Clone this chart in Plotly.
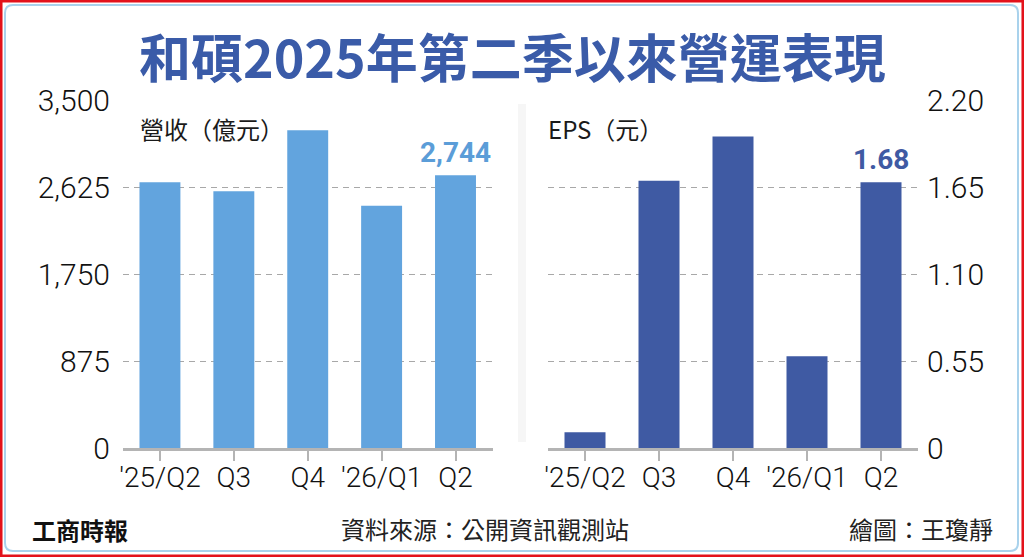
import plotly.graph_objects as go

# 資料
quarters = ["'25/Q2", "Q3", "Q4", "'26/Q1", "Q2"]
revenue = [2672, 2581, 3195, 2437, 2744]      # 營收(億元)
eps = [0.10, 1.69, 1.97, 0.58, 1.68]          # EPS(元)

rev_ticks = [0, 875, 1750, 2625, 3500]
rev_ticktext = ["0", "875", "1,750", "2,625", "3,500"]
eps_ticks = [0, 0.55, 1.10, 1.65, 2.20]
eps_ticktext = ["0", "0.55", "1.10", "1.65", "2.20"]

W, H = 1024, 557
CJK = "Noto Sans CJK TC"
NUM = "Roboto"
LIGHT_BLUE = "#62a4de"
DARK_BLUE = "#3f5aa3"
TITLE_BLUE = "#3a5ba8"


def px(x):
    return x / W


def py(y):
    return 1 - y / H


fig = go.Figure()

fig.add_trace(go.Bar(x=quarters, y=revenue, marker_color=LIGHT_BLUE,
                     marker_line_width=0, xaxis="x", yaxis="y",
                     hoverinfo="skip"))
fig.add_trace(go.Bar(x=quarters, y=eps, marker_color=DARK_BLUE,
                     marker_line_width=0, xaxis="x2", yaxis="y2",
                     hoverinfo="skip"))

xaxis_style = dict(
    type="category", showgrid=False, showline=True, linecolor="#b4b4b4",
    linewidth=3, ticks="outside", ticklen=10, tickwidth=2, tickcolor="#b4b4b4",
    tickfont=dict(family=NUM, size=28, color="#111", weight=300), fixedrange=True,
    automargin=False, ticklabelstandoff=-8,
)
yaxis_style = dict(
    showgrid=True, gridcolor="#a8a8a8", gridwidth=1, griddash="6px,5px",
    zeroline=False, showline=False, ticks="",
    tickfont=dict(family=NUM, size=30, color="#111", weight=300), fixedrange=True,
    automargin=False,
)

ydom = [py(448), py(100)]

fig.update_layout(
    width=W, height=H,
    margin=dict(l=0, r=0, t=0, b=0, autoexpand=False),
    paper_bgcolor="white", plot_bgcolor="white",
    showlegend=False, bargap=0.446,
    xaxis=dict(domain=[px(123), px(493)], anchor="y", **xaxis_style),
    yaxis=dict(domain=ydom, anchor="x", range=[0, 3500], tickvals=rev_ticks,
               ticktext=rev_ticktext, ticklabelstandoff=12, **yaxis_style),
    xaxis2=dict(domain=[px(548), px(918)], anchor="y2", **xaxis_style),
    yaxis2=dict(domain=ydom, anchor="x2", side="right", range=[0, 2.20],
                tickvals=eps_ticks, ticktext=eps_ticktext,
                ticklabelstandoff=8, **yaxis_style),
)

# 標題
fig.add_annotation(text="<b>和碩2025年第二季以來營運表現</b>", x=0.5, y=py(55),
                   xref="paper", yref="paper", xanchor="center", yanchor="middle",
                   showarrow=False, font=dict(family=CJK, size=52, color=TITLE_BLUE))

# 面板標籤
fig.add_annotation(text="營收（億元）", x=px(138), y=py(128), xref="paper", yref="paper",
                   xanchor="left", yanchor="middle", showarrow=False,
                   font=dict(family=CJK, size=24, color="#1a1a1a"))
fig.add_annotation(text="EPS（元）", x=px(546), y=py(128), xref="paper", yref="paper",
                   xanchor="left", yanchor="middle", showarrow=False,
                   font=dict(family=CJK, size=24, color="#1a1a1a"))

# 最新數值
fig.add_annotation(text="<b>%s</b>" % format(revenue[-1], ","), x=quarters[-1], y=revenue[-1],
                   xref="x", yref="y", xanchor="center", yanchor="bottom", yshift=4,
                   showarrow=False, font=dict(family=NUM, size=28, color="#5b9dd8"))
fig.add_annotation(text="<b>%.2f</b>" % eps[-1], x=quarters[-1], y=eps[-1],
                   xref="x2", yref="y2", xanchor="center", yanchor="bottom", yshift=4,
                   showarrow=False, font=dict(family=NUM, size=28, color=DARK_BLUE))

# 頁尾
fig.add_annotation(text="<b>工商時報</b>", x=px(30), y=py(529), xref="paper", yref="paper",
                   xanchor="left", yanchor="middle", showarrow=False,
                   font=dict(family=CJK, size=24, color="#111"))
fig.add_annotation(text="資料來源：公開資訊觀測站", x=px(485), y=py(528), xref="paper",
                   yref="paper", xanchor="center", yanchor="middle", showarrow=False,
                   font=dict(family=CJK, size=24, color="#222"))
fig.add_annotation(text="繪圖：王瓊靜", x=px(995), y=py(528), xref="paper", yref="paper",
                   xanchor="right", yanchor="middle", showarrow=False,
                   font=dict(family=CJK, size=24, color="#222"))

# 分隔陰影
fig.add_shape(type="rect", xref="paper", yref="paper", x0=px(518), x1=px(526),
              y0=py(442), y1=py(104), fillcolor="rgba(0,0,0,0.035)", line_width=0,
              layer="below")

# 外框
fig.add_shape(type="rect", xref="paper", yref="paper", x0=0.001, x1=0.999,
              y0=0.002, y1=0.998, line=dict(color="#e3121b", width=3))
r = 8
x0, x1, y0, y1 = 5, 1018, 5, 551
path = (f"M {px(x0 + r)},{py(y0)} L {px(x1 - r)},{py(y0)} Q {px(x1)},{py(y0)} {px(x1)},{py(y0 + r)} "
        f"L {px(x1)},{py(y1 - r)} Q {px(x1)},{py(y1)} {px(x1 - r)},{py(y1)} "
        f"L {px(x0 + r)},{py(y1)} Q {px(x0)},{py(y1)} {px(x0)},{py(y1 - r)} "
        f"L {px(x0)},{py(y0 + r)} Q {px(x0)},{py(y0)} {px(x0 + r)},{py(y0)} Z")
fig.add_shape(type="path", xref="paper", yref="paper", path=path,
              line=dict(color="#a9d2ec", width=2))

fig.write_html("out.html", config={"displayModeBar": False},
               post_script="document.body.style.margin='0';")
